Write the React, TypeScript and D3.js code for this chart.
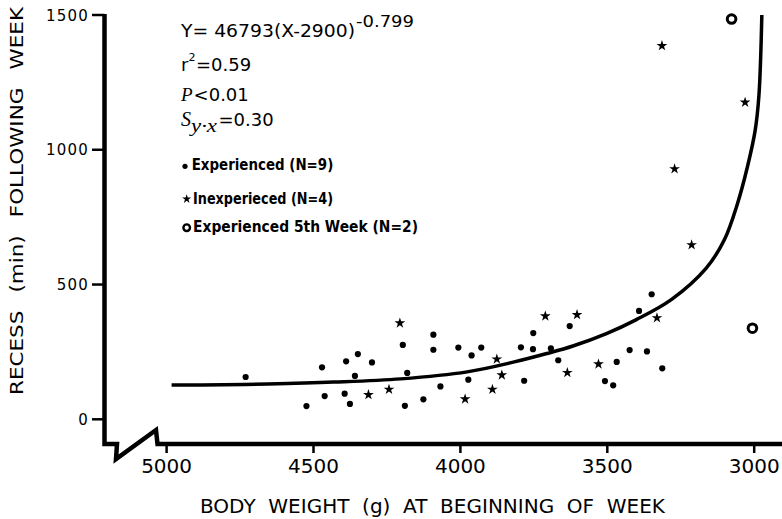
import { useEffect, useRef } from 'react';
import { select, scaleLinear, line, curveCatmullRom, symbol, symbolStar } from 'd3';

// [body weight (g), recess (min)]
const experienced = [
  [4731, 157], [4471, 193], [4389, 215], [4349, 242], [4301, 211], [4359, 161],
  [4524, 49], [4462, 86], [4394, 95], [4376, 57], [4196, 276], [4181, 172],
  [4189, 50], [4126, 74], [4092, 314], [4092, 258], [4068, 122], [4007, 266],
  [3962, 237], [3929, 266], [3973, 147], [3794, 267], [3752, 320], [3753, 260],
  [3692, 263], [3667, 219], [3783, 143], [3628, 346], [3392, 402], [3424, 257],
  [3365, 252], [3468, 213], [3508, 142], [3480, 126], [3313, 189], [3349, 464],
];
const inexperienced = [
  [4206, 357], [4313, 91], [4243, 111], [3984, 75], [3891, 111], [3876, 223],
  [3859, 164], [3711, 383], [3603, 388], [3636, 173], [3530, 205], [3331, 376],
  [3314, 1386], [3031, 1176], [3271, 929], [3213, 647],
];
const fifthWeek = [[3077, 1485], [3006, 338]];

// fitted curve as drawn on the figure
const fitCurve = [
  [4983, 127], [4881, 127], [4655, 131], [4431, 138], [4203, 150], [3977, 176],
  [3820, 212], [3706, 244], [3617, 272], [3503, 318], [3401, 370], [3281, 445],
  [3164, 560], [3102, 665], [3057, 800], [3023, 937], [2997, 1070], [2984, 1200],
  [2974, 1500],
];

const xTicks = [5000, 4500, 4000, 3500, 3000];
const yTicks = [0, 500, 1000, 1500];

const legendItems = ['Experienced (N=9)', 'Inexperieced (N=4)', 'Experienced  5th  Week (N=2)'];

const sans = '"DejaVu Sans", sans-serif';
const serif = '"Liberation Serif", "DejaVu Serif", serif';

const App = () => {
  const svgRef = useRef(null);

  useEffect(() => {
    const svg = select(svgRef.current);
    svg.selectAll('*').remove();

    const x = scaleLinear().domain([5000, 3000]).range([166.6, 754.2]);
    const y = scaleLinear().domain([0, 1500]).range([419.3, 15]);
    const axisX = 104.5;
    const baseY = 444;

    // axes with the broken corner
    svg.append('path')
      .attr('d', `M${axisX},${y(1500) - 1}V${baseY}H117L116,459L156,430L157.5,${baseY}H782`)
      .attr('fill', 'none')
      .attr('stroke', '#000')
      .attr('stroke-width', 4.5)
      .attr('stroke-linejoin', 'miter');

    const yt = svg.append('g');
    yTicks.forEach((t) => {
      yt.append('line')
        .attr('x1', 92).attr('x2', axisX)
        .attr('y1', y(t)).attr('y2', y(t))
        .attr('stroke', '#000').attr('stroke-width', 2.5);
      yt.append('text')
        .attr('x', 89).attr('y', y(t) + 5.5)
        .attr('text-anchor', 'end')
        .attr('font-family', sans)
        .attr('font-size', 15)
        .attr('letter-spacing', 1.2)
        .text(t);
    });

    const xt = svg.append('g');
    xTicks.forEach((t) => {
      xt.append('line')
        .attr('x1', x(t)).attr('x2', x(t))
        .attr('y1', baseY).attr('y2', 453)
        .attr('stroke', '#000').attr('stroke-width', 2.5);
      xt.append('text')
        .attr('x', x(t)).attr('y', 473)
        .attr('text-anchor', 'middle')
        .attr('font-family', sans)
        .attr('font-size', 20)
        .text(t);
    });

    // axis titles
    svg.append('text')
      .attr('x', 200).attr('y', 513)
      .attr('font-family', sans)
      .attr('font-size', 19)
      .attr('word-spacing', 6)
      .attr('textLength', 465)
      .attr('lengthAdjust', 'spacingAndGlyphs')
      .text('BODY WEIGHT (g) AT BEGINNING OF WEEK');
    svg.append('text')
      .attr('transform', 'translate(23,395) rotate(-90)')
      .attr('font-family', sans)
      .attr('font-size', 17)
      .attr('word-spacing', 9)
      .attr('textLength', 388)
      .attr('lengthAdjust', 'spacingAndGlyphs')
      .text('RECESS (min) FOLLOWING WEEK');

    // fitted curve
    svg.append('path')
      .datum(fitCurve)
      .attr('d', line().x((d) => x(d[0])).y((d) => y(d[1])).curve(curveCatmullRom.alpha(0.5)))
      .attr('fill', 'none')
      .attr('stroke', '#000')
      .attr('stroke-width', 3.5);

    // points
    svg.append('g')
      .selectAll('circle')
      .data(experienced)
      .enter()
      .append('circle')
      .attr('cx', (d) => x(d[0]))
      .attr('cy', (d) => y(d[1]))
      .attr('r', 3.1)
      .attr('fill', '#000');

    const star = symbol().type(symbolStar).size(36);
    svg.append('g')
      .selectAll('path')
      .data(inexperienced)
      .enter()
      .append('path')
      .attr('d', star)
      .attr('transform', (d) => `translate(${x(d[0])},${y(d[1])})`)
      .attr('fill', '#000');

    svg.append('g')
      .selectAll('circle')
      .data(fifthWeek)
      .enter()
      .append('circle')
      .attr('cx', (d) => x(d[0]))
      .attr('cy', (d) => y(d[1]))
      .attr('r', 4.3)
      .attr('fill', '#fff')
      .attr('stroke', '#000')
      .attr('stroke-width', 3);

    // regression text
    const eq = svg.append('text')
      .attr('x', 181).attr('y', 36.7)
      .attr('font-family', sans)
      .attr('font-size', 18);
    eq.append('tspan').attr('textLength', 174).attr('lengthAdjust', 'spacingAndGlyphs').text('Y= 46793(X-2900)');
    eq.append('tspan').attr('x', 356).attr('y', 26.7).attr('font-size', 16.5)
      .attr('textLength', 58).attr('lengthAdjust', 'spacingAndGlyphs').text('-0.799');

    const r2 = svg.append('text')
      .attr('x', 181).attr('y', 70.7)
      .attr('font-family', sans)
      .attr('font-size', 18);
    r2.append('tspan').text('r');
    r2.append('tspan').attr('y', 61).attr('font-size', 11).text('2');
    r2.append('tspan').attr('x', 196).attr('y', 70.7).text('=0.59');

    const p = svg.append('text')
      .attr('x', 181).attr('y', 100.7)
      .attr('font-size', 18);
    p.append('tspan').attr('font-family', serif).attr('font-style', 'italic').attr('font-size', 19).text('P');
    p.append('tspan').attr('font-family', sans).attr('dx', 1).text('<0.01');

    const s = svg.append('text')
      .attr('x', 181).attr('y', 126)
      .attr('font-size', 18);
    s.append('tspan').attr('font-family', serif).attr('font-style', 'italic').attr('font-size', 20).text('S');
    s.append('tspan').attr('font-family', serif).attr('font-style', 'italic').attr('font-size', 18)
      .attr('y', 131.7).attr('textLength', 26).attr('lengthAdjust', 'spacingAndGlyphs').text('y·x');
    s.append('tspan').attr('font-family', sans).attr('x', 218.5).attr('y', 126).text('=0.30');

    // legend
    const legendY = [170, 204, 232.3];
    const legendW = [141.6, 140, 225];
    legendItems.forEach((label, i) => {
      svg.append('text')
        .attr('x', i === 0 ? 191.7 : 193)
        .attr('y', legendY[i])
        .attr('font-family', sans)
        .attr('font-size', 15.5)
        .attr('font-weight', 'bold')
        .attr('textLength', legendW[i])
        .attr('lengthAdjust', 'spacingAndGlyphs')
        .text(label);
    });
    svg.append('circle').attr('cx', 185).attr('cy', 166.3).attr('r', 2.6).attr('fill', '#000');
    svg.append('path')
      .attr('d', symbol().type(symbolStar).size(26))
      .attr('transform', 'translate(186.7,199)')
      .attr('fill', '#000');
    svg.append('circle')
      .attr('cx', 186.7).attr('cy', 227.7).attr('r', 3.3)
      .attr('fill', '#fff').attr('stroke', '#000').attr('stroke-width', 2.4);
  }, []);

  return (
    <svg
      ref={svgRef}
      width={782}
      height={519}
      style={{ position: 'absolute', left: 0, top: 0, background: '#fff' }}
    />
  );
};

export default App;
